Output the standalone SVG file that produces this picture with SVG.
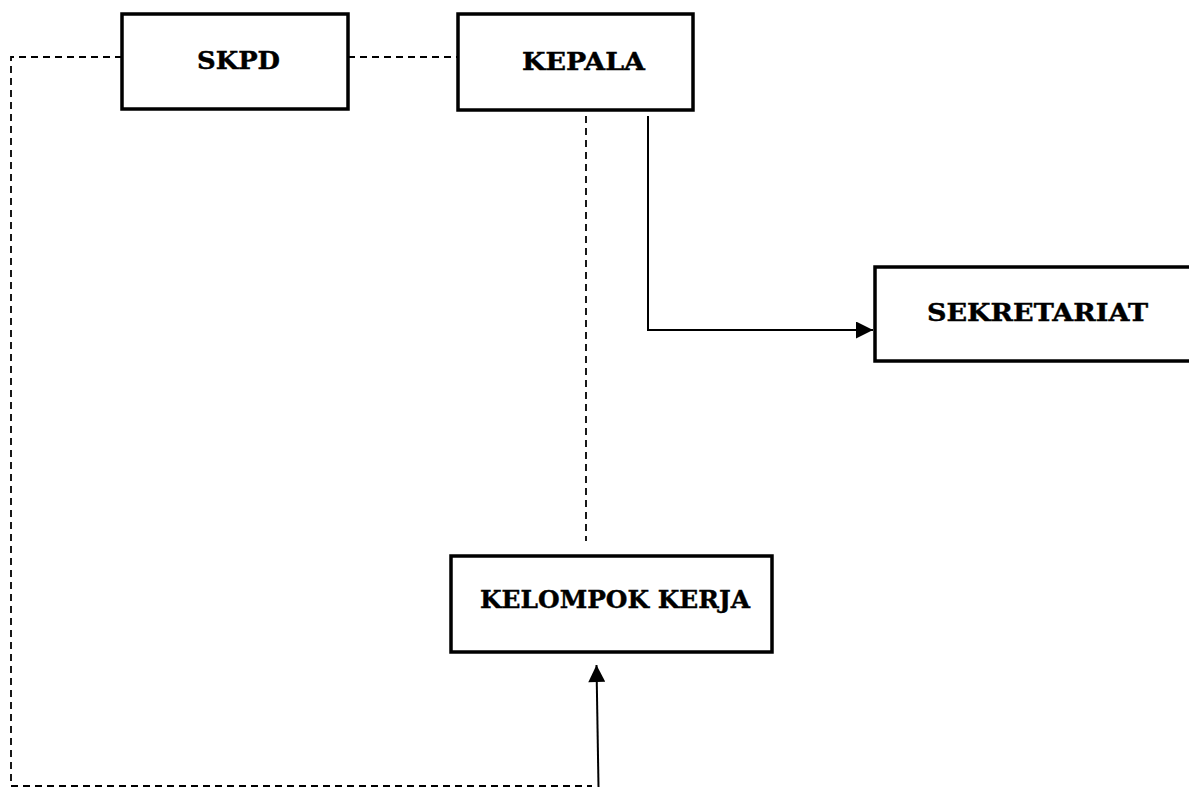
<svg xmlns="http://www.w3.org/2000/svg" width="1189" height="787" viewBox="0 0 1189 787">
<defs>
<style>
.box{fill:#fff;stroke:#000;stroke-width:3.5}
.lbl{font-family:"DejaVu Serif","Liberation Serif",serif;font-weight:bold;font-size:24px;fill:#000;stroke:#000;stroke-width:0.4}
.dash{fill:none;stroke:#000;stroke-width:1.8;stroke-dasharray:7 5}
.solid{fill:none;stroke:#000;stroke-width:2}
</style>
<marker id="arr" viewBox="0 0 10 10" refX="10" refY="5" markerWidth="18" markerHeight="17" markerUnits="userSpaceOnUse" orient="auto">
<path d="M0,0 L10,5 L0,10 Z" fill="#000"/>
</marker>
</defs>
<rect width="1189" height="787" fill="#fff"/>
<g id="connectors">
<polyline class="dash" points="122,57 11,57 11,786 592,786"/>
<line class="dash" x1="348" y1="57" x2="458" y2="57"/>
<line class="dash" x1="586" y1="116" x2="586" y2="541"/>
<polyline class="solid" points="648,116 648,330 873,330" marker-end="url(#arr)"/>
<line class="solid" x1="598.5" y1="787" x2="596.5" y2="665" marker-end="url(#arr)"/>
</g>
<g id="skpd">
<rect class="box" x="122" y="14" width="226" height="95"/>
<text class="lbl" x="238.5" y="69" text-anchor="middle" textLength="83" lengthAdjust="spacingAndGlyphs">SKPD</text>
</g>
<g id="kepala">
<rect class="box" x="458" y="14" width="235" height="96"/>
<text class="lbl" x="583.5" y="70" text-anchor="middle" textLength="123" lengthAdjust="spacingAndGlyphs">KEPALA</text>
</g>
<g id="sekretariat">
<rect class="box" x="875" y="267" width="330" height="94"/>
<text class="lbl" x="1037.5" y="321" text-anchor="middle" textLength="221" lengthAdjust="spacingAndGlyphs">SEKRETARIAT</text>
</g>
<g id="kelompok-kerja">
<rect class="box" x="451" y="556" width="321" height="96"/>
<text class="lbl" x="615" y="608" text-anchor="middle" textLength="270" lengthAdjust="spacingAndGlyphs">KELOMPOK KERJA</text>
</g>
</svg>
